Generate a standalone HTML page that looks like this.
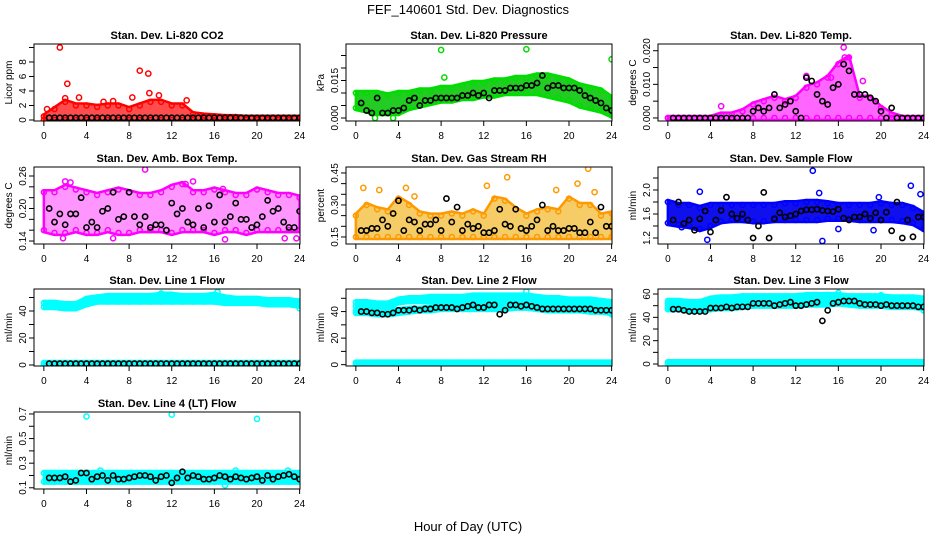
<!DOCTYPE html>
<html><head><meta charset="utf-8"><style>
html,body{margin:0;padding:0;background:#fff;}
svg{display:block;font-family:"Liberation Sans",Arial,sans-serif;}
</style></head><body>
<svg id="chart" width="936" height="540" viewBox="0 0 936 540" xmlns="http://www.w3.org/2000/svg">
<text x="468" y="14" text-anchor="middle" font-size="13">FEF_140601  Std. Dev. Diagnostics</text>
<text x="468" y="531" text-anchor="middle" font-size="13">Hour of Day (UTC)</text>
</svg>
<script>
// ---------- data ----------
const hours = [0,1,2,3,4,5,6,7,8,9,10,11,12,13,14,15,16,17,18,19,20,21,22,23,24];
const xTicks = [0,4,8,12,16,20,24];

const co2Lo = [0,0,0,0,0,0,0,0,0,0,0,0,0,0,0,0,0,0,0,0,0,0,0,0,0];
const co2Hi = [0.5,1.5,2.5,2,2,1.8,2,2,1.5,2,2.5,2.5,2,2,0.8,0.6,0.5,0.4,0.4,0.3,0.3,0.3,0.3,0.3,0.3];
const co2OutX = [1.5,2.2,9,9.8,2,3.3,8.3,9.9,13.4,10.8,0.3,5.6,6.5];
const co2OutY = [10,5,6.8,6.4,3,3.1,3.1,3.7,2.7,3.4,1.5,2.5,2.6];
const co2Black = [0.3,0.3,0.3,0.3,0.3,0.3,0.3,0.3,0.3,0.3,0.3,0.3,0.3,0.3,0.3,0.3,0.3,0.3,0.3,0.3,0.3,0.3,0.3,0.3,0.3,0.3,0.3,0.3,0.3,0.3,0.3,0.3,0.3,0.3,0.3,0.3,0.3,0.3,0.3,0.3,0.3,0.3,0.3,0.3,0.3,0.3,0.3,0.3];

const presLo = [0.004,0.003,0.002,0.002,0.002,0.004,0.005,0.006,0.007,0.007,0.008,0.008,0.009,0.009,0.010,0.010,0.010,0.010,0.009,0.008,0.007,0.005,0.004,0.003,0.001];
const presHi = [0.010,0.010,0.010,0.009,0.010,0.010,0.011,0.011,0.012,0.012,0.013,0.014,0.014,0.015,0.015,0.016,0.016,0.017,0.017,0.016,0.015,0.013,0.012,0.011,0.008];
const presOutX = [8,16,24,8.3,1.8,3.5];
const presOutY = [0.0272,0.0275,0.0235,0.0162,0,0];
const presBlack = [0.006,0.003,0.002,0.008,0.002,0.002,0.003,0.003,0.004,0.007,0.008,0.005,0.007,0.007,0.008,0.008,0.008,0.008,0.008,0.009,0.009,0.010,0.009,0.010,0.008,0.011,0.011,0.011,0.012,0.012,0.012,0.013,0.013,0.014,0.017,0.012,0.013,0.013,0.012,0.012,0.012,0.011,0.009,0.008,0.007,0.006,0.004,0.003];

const tempLo = [0,0,0,0,0,0,0,0,0,0,0,0,0,0,0,0,0,0,0,0,0,0,0,0,0];
const tempHi = [0,0,0,0,0,0.001,0.001,0.002,0.004,0.005,0.006,0.005,0.006,0.009,0.010,0.012,0.016,0.018,0.006,0.006,0.003,0.001,0,0,0];
const tempOutX = [16.5,5,13,15.3,16.6,18.3];
const tempOutY = [0.021,0.0035,0.0125,0.012,0.018,0.011];
const tempBlack = [0,0,0,0,0,0,0,0,0,0,0,0,0,0,0,0.002,0.003,0.002,0.003,0.007,0.003,0.004,0.005,0.002,0,0.012,0.011,0.007,0.005,0.004,0.009,0.010,0.016,0.014,0.007,0.007,0.007,0.006,0.005,0.002,0,0.003,0,0,0,0,0,0];

const ambLo = [0.16,0.155,0.155,0.16,0.155,0.155,0.16,0.155,0.155,0.16,0.16,0.16,0.155,0.16,0.16,0.16,0.155,0.16,0.16,0.155,0.16,0.16,0.16,0.16,0.16];
const ambHi = [0.23,0.23,0.24,0.235,0.23,0.225,0.23,0.235,0.23,0.225,0.225,0.23,0.24,0.245,0.23,0.23,0.235,0.23,0.225,0.225,0.235,0.23,0.225,0.225,0.22];
const ambOutX = [9.5,2,14,1.8,6.5,17,2.5,13.3,16.8,22.6,23.7];
const ambOutY = [0.272,0.25,0.25,0.145,0.145,0.143,0.248,0.245,0.236,0.145,0.145];
const ambBlack = [0.20,0.175,0.19,0.17,0.19,0.19,0.22,0.165,0.175,0.165,0.195,0.20,0.23,0.18,0.185,0.23,0.185,0.17,0.185,0.165,0.17,0.17,0.16,0.21,0.19,0.20,0.175,0.17,0.20,0.165,0.205,0.175,0.225,0.175,0.185,0.21,0.18,0.18,0.165,0.17,0.185,0.215,0.195,0.20,0.175,0.165,0.165,0.195];

const rhLo = [0.15,0.15,0.15,0.15,0.15,0.15,0.15,0.15,0.15,0.15,0.15,0.15,0.15,0.15,0.15,0.15,0.15,0.15,0.15,0.15,0.15,0.15,0.15,0.15,0.15];
const rhHi = [0.25,0.3,0.28,0.27,0.33,0.3,0.26,0.25,0.25,0.26,0.25,0.27,0.25,0.33,0.32,0.28,0.25,0.27,0.28,0.27,0.33,0.3,0.3,0.25,0.26];
const rhOutX = [0.7,2.2,4.7,12.3,14.2,21.8,20.8,5.5,18.8,22.4];
const rhOutY = [0.38,0.37,0.38,0.39,0.43,0.47,0.4,0.34,0.37,0.36];
const rhBlack = [0.18,0.18,0.19,0.19,0.23,0.20,0.26,0.32,0.18,0.23,0.22,0.18,0.21,0.21,0.23,0.18,0.33,0.22,0.29,0.18,0.21,0.19,0.20,0.17,0.17,0.18,0.28,0.21,0.20,0.28,0.19,0.18,0.20,0.23,0.30,0.18,0.20,0.18,0.18,0.19,0.19,0.17,0.17,0.22,0.17,0.29,0.20,0.20];

const sfLo = [1.45,1.42,1.4,1.35,1.4,1.48,1.5,1.5,1.48,1.48,1.5,1.5,1.5,1.5,1.5,1.52,1.52,1.52,1.5,1.5,1.5,1.5,1.48,1.45,1.35];
const sfHi = [1.8,1.75,1.75,1.7,1.75,1.75,1.75,1.75,1.75,1.75,1.75,1.78,1.78,1.8,1.8,1.78,1.75,1.75,1.75,1.75,1.78,1.75,1.75,1.7,1.6];
const sfOutX = [13.6,22.8,3,19.8,14.5,3.7,23.7,16,14.2,1.3,19.3];
const sfOutY = [2.32,2.07,1.97,1.88,1.15,1.17,1.93,1.35,1.95,1.38,1.33];
const sfBlack = [1.5,1.8,1.44,1.5,1.33,1.52,1.65,1.3,1.5,1.66,1.88,1.6,1.53,1.6,1.5,1.2,1.4,1.96,1.2,1.52,1.62,1.55,1.57,1.6,1.65,1.67,1.67,1.68,1.66,1.65,1.64,1.68,1.53,1.5,1.55,1.55,1.6,1.53,1.62,1.5,1.63,1.32,1.8,1.2,1.5,1.22,1.55,1.55];

const lowLo = [0,0,0,0,0,0,0,0,0,0,0,0,0,0,0,0,0,0,0,0,0,0,0,0,0];
const lowHi = [1.5,1.5,1.5,1.5,1.5,1.5,1.5,1.5,1.5,1.5,1.5,1.5,1.5,1.5,1.5,1.5,1.5,1.5,1.5,1.5,1.5,1.5,1.5,1.5,1.5];

const l1Lo = [43,43,42,42,45,47,47,47,47,47,47,47,47,47,47,47,47,46,46,46,46,45,45,45,44];
const l1Hi = [46,46,45,45,49,50,51,51,51,51,51,52,52,51,51,51,52,50,49,49,49,48,48,48,47];
const l1OutX = [16.3,24,11,12];
const l1OutY = [54,42,53,52];
const l1Black = [1,1,1,1,1,1,1,1,1,1,1,1,1,1,1,1,1,1,1,1,1,1,1,1,1,1,1,1,1,1,1,1,1,1,1,1,1,1,1,1,1,1,1,1,1,1,1,1];

const l2Lo = [44,44,43,43,47,48,48,48,48,48,49,49,49,49,49,49,49,48,48,47,47,47,47,46,46];
const l2Hi = [47,47,46,46,49,50,50,51,51,51,51,52,52,52,52,52,52,51,50,50,49,49,49,48,47];
const l2Lo2 = [39,39,38,38,39,40,41,41,42,42,42,42,42,42,42,43,43,42,41,41,41,41,40,40,39];
const l2Hi2 = [41,41,40,40,41,42,42,43,44,44,44,45,45,45,45,46,46,44,43,43,43,43,42,42,42];
const l2OutX = [16,24];
const l2OutY = [55,38];
const l2Black = [40,40,39,39,38,38,39,41,41,41,42,41,42,42,43,43,43,43,42,43,44,45,43,43,45,45,38,41,45,45,44,45,44,43,42,42,42,42,42,42,42,42,42,42,41,41,41,41];

const l3Lo = [52,52,51,51,54,55,55,56,56,56,56,56,56,57,57,57,57,56,56,56,56,55,55,55,54];
const l3Hi = [54,54,53,53,56,57,57,58,58,58,58,58,58,59,59,59,59,58,58,58,58,57,57,57,56];
const l3Lo2 = [47,47,46,46,47,48,48,49,50,50,50,50,50,51,51,51,52,51,50,50,50,49,49,49,48];
const l3Hi2 = [49,49,48,48,49,50,50,51,52,52,52,52,52,53,53,53,54,53,52,52,52,51,51,51,50];
const l3OutX = [16,24,20];
const l3OutY = [61,46,59];
const l3Black = [47,47,46,45,45,45,45,48,48,48,49,48,49,49,49,52,52,52,52,50,51,52,53,50,50,51,52,53,37,46,52,53,54,54,54,52,51,51,51,50,51,50,50,50,50,50,49,49];

const l4Lo = [0.15,0.15,0.15,0.15,0.15,0.15,0.15,0.15,0.15,0.15,0.15,0.15,0.15,0.15,0.15,0.15,0.15,0.15,0.15,0.15,0.15,0.15,0.15,0.15,0.15];
const l4Hi = [0.22,0.22,0.22,0.22,0.22,0.22,0.22,0.22,0.22,0.22,0.22,0.22,0.22,0.22,0.22,0.22,0.22,0.22,0.22,0.22,0.22,0.22,0.22,0.22,0.22];
const l4OutX = [4,12,20,5.3,17,18,22.9];
const l4OutY = [0.68,0.695,0.66,0.24,0.12,0.24,0.24];
const l4Black = [0.18,0.18,0.18,0.19,0.15,0.16,0.22,0.22,0.17,0.19,0.2,0.16,0.2,0.17,0.17,0.18,0.19,0.2,0.2,0.19,0.16,0.19,0.2,0.14,0.18,0.23,0.18,0.2,0.19,0.17,0.17,0.18,0.2,0.19,0.17,0.19,0.18,0.17,0.18,0.19,0.16,0.2,0.17,0.19,0.2,0.21,0.19,0.17];

// ---------- layout ----------
const colLeft = [34,346,658];
const rowTop = [44,167,289,412];
const PW = 266, PH = 77;

const panels = [
 {name:'co2',title:'Stan. Dev. Li-820 CO2',ylab:'Licor ppm',col:0,row:0,y0:-0.14,y1:10.48,ticks:[0,2,4,6,8,10],labels:[0,2,4,6,8],fmt:0,color:'#ff0000',fill:'#ff0000',bands:[[co2Lo,co2Hi]],outX:co2OutX,outY:co2OutY,black:co2Black,op:0.7},
 {name:'pressure',title:'Stan. Dev. Li-820 Pressure',ylab:'kPa',col:1,row:0,y0:-0.0012,y1:0.0296,ticks:[0,0.005,0.01,0.015,0.02,0.025],labels:[0,0.015],fmt:3,color:'#00dd00',fill:'#22cc22',bands:[[presLo,presHi]],outX:presOutX,outY:presOutY,black:presBlack},
 {name:'li820-temp',title:'Stan. Dev. Li-820 Temp.',ylab:'degrees C',col:2,row:0,y0:-0.0009,y1:0.0220,ticks:[0,0.005,0.01,0.015,0.02],labels:[0,0.01,0.02],fmt:3,color:'#ff00ff',fill:'#ff00ff',bands:[[tempLo,tempHi]],outX:tempOutX,outY:tempOutY,black:tempBlack,op:0.6},
 {name:'amb-box-temp',title:'Stan. Dev. Amb. Box Temp.',ylab:'degrees C',col:0,row:1,y0:0.1345,y1:0.2766,ticks:[0.14,0.16,0.18,0.2,0.22,0.24,0.26],labels:[0.14,0.20,0.26],fmt:2,color:'#ff00ff',fill:'#ff40ff',bands:[[ambLo,ambHi]],outX:ambOutX,outY:ambOutY,black:ambBlack,op:0.55},
 {name:'gas-rh',title:'Stan. Dev. Gas Stream RH',ylab:'percent',col:1,row:1,y0:0.117,y1:0.478,ticks:[0.15,0.2,0.25,0.3,0.35,0.4,0.45],labels:[0.15,0.30,0.45],fmt:2,color:'#ff9900',fill:'#eeaa00',bands:[[rhLo,rhHi]],outX:rhOutX,outY:rhOutY,black:rhBlack,op:0.6},
 {name:'sample-flow',title:'Stan. Dev. Sample Flow',ylab:'ml/min',col:2,row:1,y0:1.1,y1:2.383,ticks:[1.2,1.4,1.6,1.8,2.0,2.2],labels:[1.2,1.6,2.0],fmt:1,color:'#0000ff',fill:'#1010ee',bands:[[sfLo,sfHi]],outX:sfOutX,outY:sfOutY,black:sfBlack},
 {name:'line1-flow',title:'Stan. Dev. Line 1 Flow',ylab:'ml/min',col:0,row:2,y0:-0.74,y1:56.3,ticks:[0,10,20,30,40,50],labels:[0,20,40],fmt:0,color:'#00ffff',fill:'#00ffff',bands:[[l1Lo,l1Hi],[lowLo,lowHi]],outX:l1OutX,outY:l1OutY,black:l1Black},
 {name:'line2-flow',title:'Stan. Dev. Line 2 Flow',ylab:'ml/min',col:1,row:2,y0:-1,y1:57,ticks:[0,10,20,30,40,50],labels:[0,20,40],fmt:0,color:'#00ffff',fill:'#00ffff',bands:[[l2Lo,l2Hi],[l2Lo2,l2Hi2],[lowLo,lowHi]],outX:l2OutX,outY:l2OutY,black:l2Black},
 {name:'line3-flow',title:'Stan. Dev. Line 3 Flow',ylab:'ml/min',col:2,row:2,y0:-1.7,y1:64.3,ticks:[0,10,20,30,40,50,60],labels:[0,20,40,60],fmt:0,color:'#00ffff',fill:'#00ffff',bands:[[l3Lo,l3Hi],[l3Lo2,l3Hi2],[lowLo,lowHi]],outX:l3OutX,outY:l3OutY,black:l3Black},
 {name:'line4-flow',title:'Stan. Dev. Line 4 (LT) Flow',ylab:'ml/min',col:0,row:3,y0:0.09,y1:0.716,ticks:[0.1,0.2,0.3,0.4,0.5,0.6,0.7],labels:[0.1,0.3,0.5,0.7],fmt:1,color:'#00ffff',fill:'#00ffff',bands:[[l4Lo,l4Hi]],outX:l4OutX,outY:l4OutY,black:l4Black}
];

const NS = 'http://www.w3.org/2000/svg';
const svg = document.getElementById('chart');
function mk(tag, attrs, parent){
  const e = document.createElementNS(NS, tag);
  for (const k in attrs) e.setAttribute(k, attrs[k]);
  (parent||svg).appendChild(e);
  return e;
}

panels.forEach(p => {
  const L = colLeft[p.col], T = rowTop[p.row];
  const xs = h => L + 9.85 + h * (PW / 24.96 );
  const ys = v => T + PH - (v - p.y0) / (p.y1 - p.y0) * PH;
  const g = mk('g', {});
  
  
  const clipId = 'clip-' + p.name;
  const cp = mk('clipPath', {id: clipId}, g);
  mk('rect', {x: L, y: T, width: PW, height: PH}, cp);
  const marks = mk('g', {'clip-path': 'url(#' + clipId + ')'}, g);
  
  

  p.bands.forEach((b, bi) => {
    const lo = b[0], hi = b[1];
    let pts = hours.map((h, i) => xs(h) + ',' + (ys(hi[i]) - 2)).join(' ');
    pts += ' ' + hours.slice().reverse().map((h, j) => xs(h) + ',' + (ys(lo[hours.length - 1 - j]) + 2)).join(' ');
    const poly = mk('polygon', {points: pts, fill: p.fill, 'fill-opacity': p.op || 1, stroke: p.color, 'stroke-width': 2.5, 'stroke-linejoin': 'round'}, marks);
    
    
    hours.forEach((h, i) => {
      [lo[i], hi[i]].forEach(v => {
        const c = mk('circle', {cx: xs(h), cy: ys(v), r: 2.5, fill: 'none', stroke: p.color, 'stroke-width': 1.5}, marks);
        
        
      });
    });
  });
  p.outX.forEach((h, i) => {
    const c = mk('circle', {cx: xs(h), cy: ys(p.outY[i]), r: 2.6, fill: 'none', stroke: p.color, 'stroke-width': 1.5}, marks);
    
    
  });
  p.black.forEach((v, i) => {
    const c = mk('circle', {cx: xs((i + 1) * 0.5), cy: ys(v), r: 2.6, fill: 'none', stroke: '#000', 'stroke-width': 1.6}, marks);
    
    
  });

  const box = mk('rect', {x: L, y: T, width: PW, height: PH, fill: 'none', stroke: '#000', 'stroke-width': 1}, g);
  
  
  const t = mk('text', {x: L + PW / 2, y: T - 5, 'text-anchor': 'middle', 'font-size': 11, 'font-weight': 'bold'}, g);
  t.textContent = p.title;
  
  
  xTicks.forEach(h => {
    mk('line', {x1: xs(h), x2: xs(h), y1: T + PH, y2: T + PH + 5, stroke: '#000'}, g);
    const tl = mk('text', {x: xs(h), y: T + PH + 18, 'text-anchor': 'middle', 'font-size': 10}, g);
    tl.textContent = h;
    
    
  });
  p.ticks.forEach(v => {
    if (ys(v) >= T - 0.5 && ys(v) <= T + PH + 0.5)
      mk('line', {x1: L - 5, x2: L, y1: ys(v), y2: ys(v), stroke: '#000'}, g);
  });
  p.labels.forEach(v => {
    const yy = ys(v);
    const tl = mk('text', {x: L - 8, y: yy, 'text-anchor': 'middle', 'font-size': 10, transform: 'rotate(-90 ' + (L - 8) + ' ' + yy + ')'}, g);
    tl.textContent = v.toFixed(p.fmt);
    
    
  });
  const yl = mk('text', {x: L - 22, y: T + PH / 2, 'text-anchor': 'middle', 'font-size': 10, transform: 'rotate(-90 ' + (L - 22) + ' ' + (T + PH / 2) + ')'}, g);
  yl.textContent = p.ylab;
  
  
});
</script>
</body></html>
